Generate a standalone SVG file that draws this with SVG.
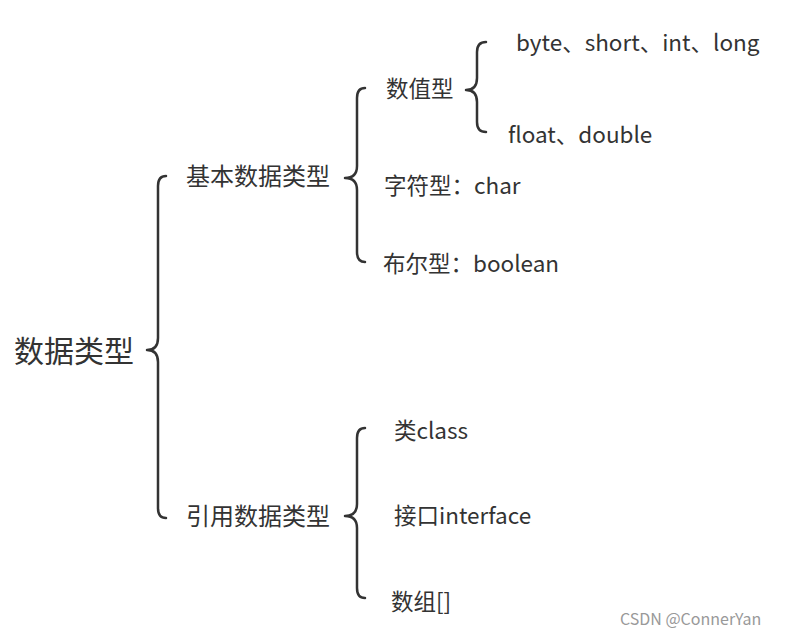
<svg xmlns="http://www.w3.org/2000/svg" width="787" height="635" viewBox="0 0 787 635">
<style>
text{font-family:"Noto Sans CJK SC","Noto Sans",sans-serif;fill:#333;font-size:22.5px}
.b{fill:none;stroke:#333;stroke-width:2.5;stroke-linecap:round;stroke-linejoin:round}
</style>
<rect width="787" height="635" fill="#fff"/>
<g id="connectors">
<path class="b" d="M166,176 Q158,176 158,186 L158,338 Q158,350 147,350 Q158,350 158,362 L158,508 Q158,518 166,518"/>
<path class="b" d="M365,88 Q357,88 357,98 L357,166 Q357,178 345,178 Q357,178 357,190 L357,252 Q357,262 365,262"/>
<path class="b" d="M486,42 Q477,42 477,52 L477,78 Q477,90 466,90 Q477,90 477,102 L477,122 Q477,132 486,132"/>
<path class="b" d="M365,428 Q357,428 357,438 L357,504 Q357,516 345,516 Q357,516 357,528 L357,588 Q357,598 365,598"/>
</g>
<g id="root"><text x="14" y="362" style="font-size:30px">数据类型</text></g>
<g id="basic"><text x="186" y="185" style="font-size:24px">基本数据类型</text></g>
<g id="ref"><text x="186" y="525" style="font-size:24px">引用数据类型</text></g>
<g id="num"><text x="386" y="97">数值型</text></g>
<g id="int"><text x="516" y="51">byte、short、int、long</text></g>
<g id="float"><text x="508" y="143">float、double</text></g>
<g id="char"><text x="384" y="194">字符型：char</text></g>
<g id="bool"><text x="383" y="272">布尔型：boolean</text></g>
<g id="class"><text x="394" y="439">类class</text></g>
<g id="iface"><text x="394" y="524">接口interface</text></g>
<g id="arr"><text x="391" y="610">数组[]</text></g>
<text x="620" y="625" style="font-size:16px;fill:#999">CSDN @ConnerYan</text>
</svg>
